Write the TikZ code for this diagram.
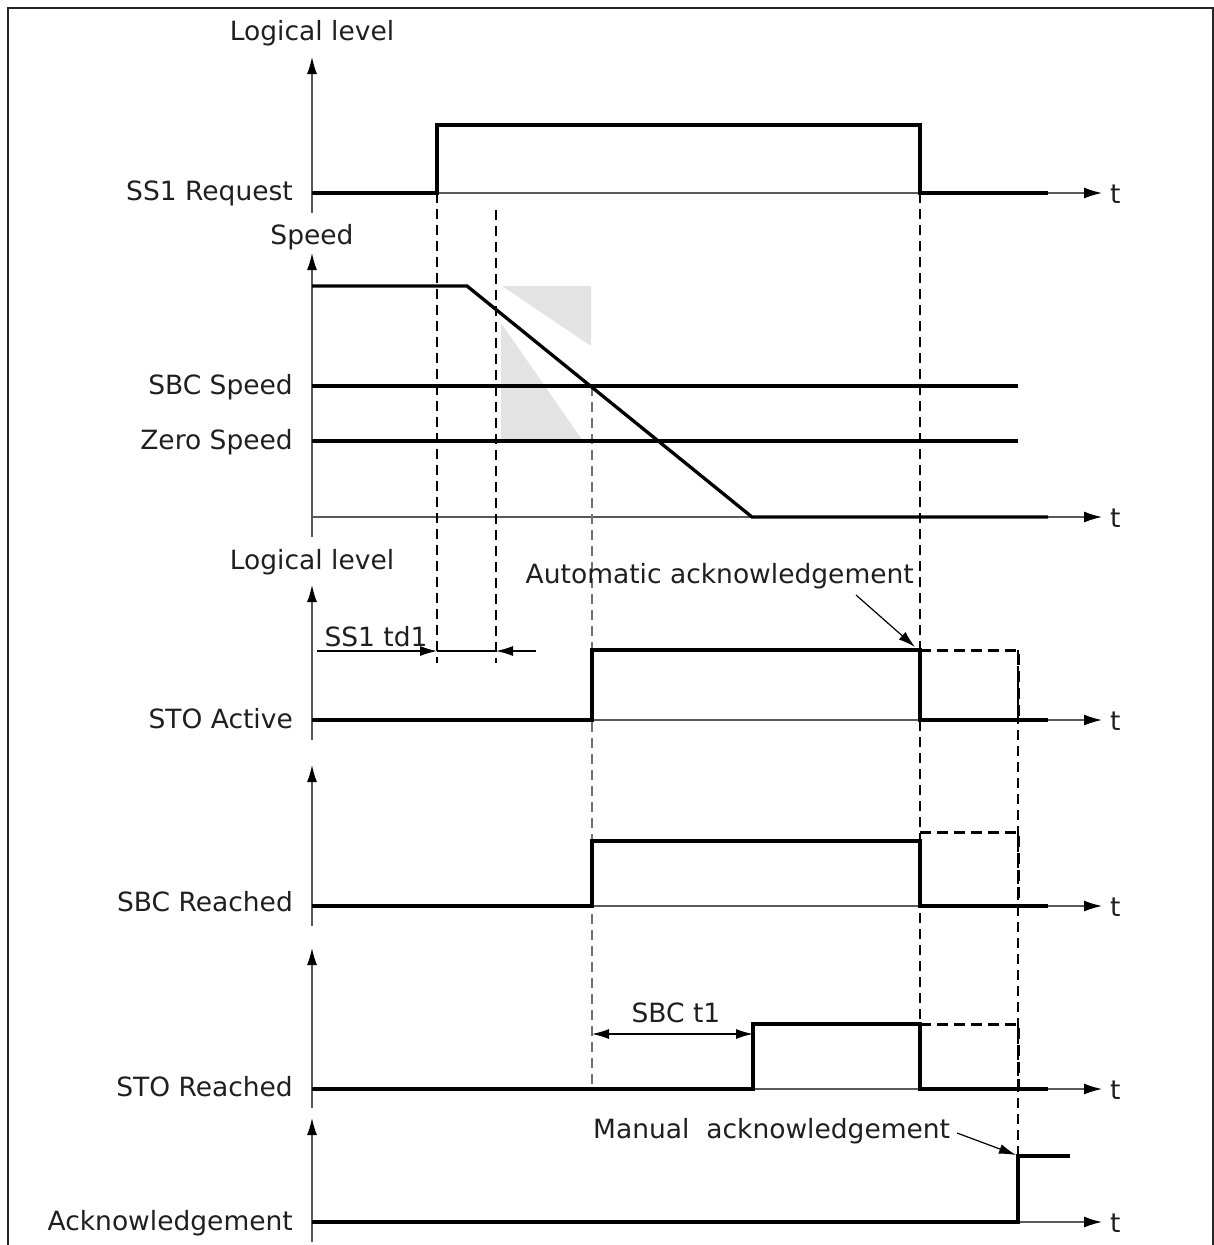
\documentclass[tikz,border=0pt]{standalone}
\usepackage{fontspec}
\setmainfont{DejaVu Sans}
\usetikzlibrary{arrows.meta}
\begin{document}
\begin{tikzpicture}[x=1pt,y=-1pt,
  lbl/.style={font=\fontsize{26.5}{30}\selectfont, text=black!88, inner sep=0pt},
  axis/.style={line width=1.4pt, draw=black!65, -{Latex[length=17pt,width=10pt,fill=black,color=black]}},
  taxis/.style={line width=1.4pt, draw=black!65, -{Latex[length=18pt,width=11pt,fill=black,color=black]}},
  sig/.style={line width=3.3pt, line join=miter},
  dsig/.style={line width=3pt, dash pattern=on 11pt off 6pt},
  guide/.style={line width=1.1pt, dash pattern=on 10pt off 6pt},
  grguide/.style={guide, draw=black!55},
  dimarr/.style={line width=1.2pt, -{Latex[length=17pt,width=10pt]}},
  shade/.style={fill=black!11, draw=none},
]
\useasboundingbox (0,0) rectangle (1214,1245);
% frame
\draw[line width=1.8pt, draw=black!85] (8,1245) -- (8,8) -- (1213,8) -- (1213,1245);

% grey shapes
\fill[shade] (502,286) -- (591,286) -- (591,346) -- cycle;
\fill[shade] (501,323) -- (501,441) -- (583,441) -- cycle;

% coordinates
\coordinate (a1b) at (312,213); \coordinate (a1t) at (312,57);
\coordinate (a2b) at (312,537); \coordinate (a2t) at (312,253);
\coordinate (a3b) at (312,740); \coordinate (a3t) at (312,585);
\coordinate (a4b) at (312,926); \coordinate (a4t) at (312,765);
\coordinate (a5b) at (312,1108); \coordinate (a5t) at (312,948);
\coordinate (a6b) at (312,1242); \coordinate (a6t) at (312,1118);

% vertical axes
\draw[axis] (a1b) -- (a1t);
\draw[axis] (a2b) -- (a2t);
\draw[axis] (a3b) -- (a3t);
\draw[axis] (a4b) -- (a4t);
\draw[axis] (a5b) -- (a5t);
\draw[axis] (a6b) -- (a6t);

% time axes
\foreach \yy/\nm in {193/t1,517/t2,720/t3,906/t4,1089/t5,1222/t6}{
  \coordinate (\nm s) at (312,\yy);
  \coordinate (\nm e) at (1102,\yy);
  \draw[taxis] (\nm s) -- (\nm e);
  \node[lbl, anchor=base west] (\nm) at (1110,\yy+10) {t};
}

% guides
\draw[guide] (437,193) -- (437,663);
\draw[guide] (496,210) -- (496,663);
\draw[grguide] (592,386) -- (592,1089);
\draw[guide] (920,193) -- (920,1089);
\draw[guide] (1018,650) -- (1018,1156);

% axis titles and labels
\node[lbl, anchor=base] (ll1) at (312,40) {Logical level};
\node[lbl, anchor=base] (spd) at (312,244) {Speed};
\node[lbl, anchor=base] (ll3) at (312,569) {Logical level};
\node[lbl, anchor=base east] (ss1) at (293,200) {SS1 Request};
\node[lbl, anchor=base east] (sbcs) at (293,394) {SBC Speed};
\node[lbl, anchor=base east] (zs) at (293,449) {Zero Speed};
\node[lbl, anchor=base east] (stoa) at (293,728) {STO Active};
\node[lbl, anchor=base east] (sbcr) at (293,911) {SBC Reached};
\node[lbl, anchor=base east] (stor) at (293,1096) {STO Reached};
\node[lbl, anchor=base east] (ack) at (293,1230) {Acknowledgement};

% signals
\draw[sig] (312,193) -- (437,193) -- (437,125) -- (920,125) -- (920,193) -- (1048,193);
\draw[sig] (312,286) -- (467,286) -- (752,517) -- (1048,517);
\draw[sig] (312,386) -- (1018,386);
\draw[sig] (312,441) -- (1018,441);
\draw[sig] (312,720) -- (592,720) -- (592,650) -- (920,650) -- (920,720) -- (1048,720);
\draw[dsig] (920,650) -- (1018,650) -- (1018,720);
\draw[sig] (312,906) -- (592,906) -- (592,841) -- (920,841) -- (920,906) -- (1048,906);
\draw[dsig] (920,832) -- (1018,832) -- (1018,906);
\draw[sig] (312,1089) -- (753,1089) -- (753,1024) -- (920,1024) -- (920,1089) -- (1048,1089);
\draw[dsig] (920,1024) -- (1018,1024) -- (1018,1089);
\draw[sig] (312,1222) -- (1018,1222) -- (1018,1156) -- (1070,1156);

% SS1 td1
\node[lbl, anchor=base] (td1) at (376,646) {SS1 td1};
\coordinate (td1a) at (317,651); \coordinate (td1b) at (437,651);
\coordinate (td1c) at (496,651); \coordinate (td1d) at (536,651);
\draw[dimarr] (td1a) -- (td1b);
\draw[line width=1.2pt] (td1b) -- (td1c);
\draw[dimarr] (td1d) -- (td1c);

% SBC t1
\node[lbl, anchor=base] (sbct1) at (676,1022) {SBC t1};
\coordinate (sbca) at (592,1034); \coordinate (sbcb) at (753,1034);
\draw[dimarr, {Latex[length=17pt,width=10pt]}-{Latex[length=17pt,width=10pt]}] (sbca) -- (sbcb);

% acknowledgement annotations
\node[lbl, anchor=base east] (autoack) at (914,583) {Automatic acknowledgement};
\coordinate (aa1) at (856,595); \coordinate (aa2) at (915,647);
\draw[dimarr] (aa1) -- (aa2);
\node[lbl, anchor=base west] (manack) at (593,1138) {Manual\ \ acknowledgement};
\coordinate (ma1) at (957,1133); \coordinate (ma2) at (1016,1155);
\draw[dimarr] (ma1) -- (ma2);
\end{tikzpicture}
\end{document}
